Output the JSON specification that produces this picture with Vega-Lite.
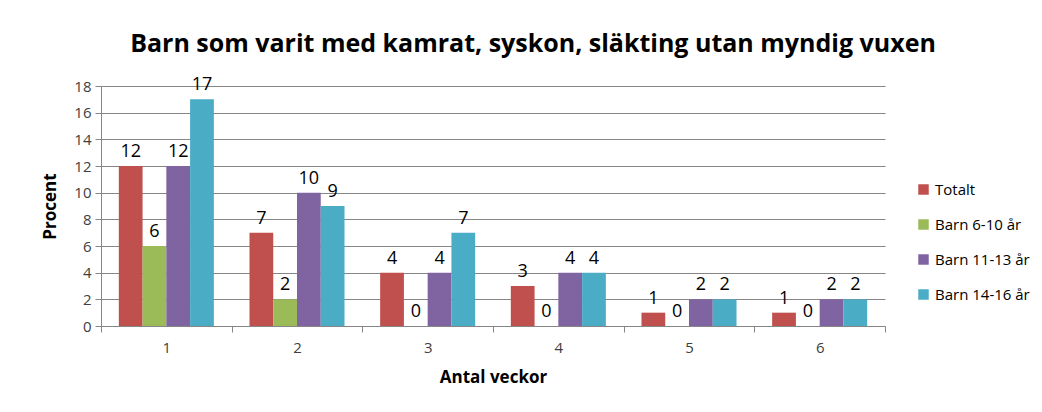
{
  "$schema": "https://vega.github.io/schema/vega-lite/v6.json",
  "width": 784,
  "height": 240,
  "autosize": {"type": "none"},
  "padding": {"left": 101, "top": 86, "right": 157, "bottom": 86},
  "background": "white",
  "title": {
    "text": "Barn som varit med kamrat, syskon, släkting utan myndig vuxen",
    "font": "Open Sans",
    "fontSize": 25,
    "fontWeight": "bold",
    "color": "#000000",
    "anchor": "middle",
    "dx": 40,
    "offset": 19
  },
  "data": {
    "values": [
      {"veckor": "1", "grupp": "Totalt", "procent": 12},
      {"veckor": "1", "grupp": "Barn 6-10 år", "procent": 6},
      {"veckor": "1", "grupp": "Barn 11-13 år", "procent": 12},
      {"veckor": "1", "grupp": "Barn 14-16 år", "procent": 17},
      {"veckor": "2", "grupp": "Totalt", "procent": 7},
      {"veckor": "2", "grupp": "Barn 6-10 år", "procent": 2},
      {"veckor": "2", "grupp": "Barn 11-13 år", "procent": 10},
      {"veckor": "2", "grupp": "Barn 14-16 år", "procent": 9},
      {"veckor": "3", "grupp": "Totalt", "procent": 4},
      {"veckor": "3", "grupp": "Barn 6-10 år", "procent": 0},
      {"veckor": "3", "grupp": "Barn 11-13 år", "procent": 4},
      {"veckor": "3", "grupp": "Barn 14-16 år", "procent": 7},
      {"veckor": "4", "grupp": "Totalt", "procent": 3},
      {"veckor": "4", "grupp": "Barn 6-10 år", "procent": 0},
      {"veckor": "4", "grupp": "Barn 11-13 år", "procent": 4},
      {"veckor": "4", "grupp": "Barn 14-16 år", "procent": 4},
      {"veckor": "5", "grupp": "Totalt", "procent": 1},
      {"veckor": "5", "grupp": "Barn 6-10 år", "procent": 0},
      {"veckor": "5", "grupp": "Barn 11-13 år", "procent": 2},
      {"veckor": "5", "grupp": "Barn 14-16 år", "procent": 2},
      {"veckor": "6", "grupp": "Totalt", "procent": 1},
      {"veckor": "6", "grupp": "Barn 6-10 år", "procent": 0},
      {"veckor": "6", "grupp": "Barn 11-13 år", "procent": 2},
      {"veckor": "6", "grupp": "Barn 14-16 år", "procent": 2}
    ]
  },
  "encoding": {
    "x": {
      "field": "veckor",
      "type": "ordinal",
      "scale": {"paddingInner": 0, "paddingOuter": 0},
      "axis": {
        "title": "Antal veckor",
        "titleFont": "Open Sans",
        "titleFontSize": 17,
        "titleFontWeight": "bold",
        "titleColor": "#000000",
        "titlePadding": 14,
        "labelAngle": 0,
        "labelFont": "Open Sans",
        "labelFontSize": 15,
        "labelColor": "#404040",
        "labelPadding": 8,
        "tickBand": "extent",
        "tickSize": 6,
        "tickColor": "#868686",
        "domainColor": "#868686",
        "grid": false
      }
    },
    "xOffset": {
      "field": "grupp",
      "type": "nominal",
      "sort": ["Totalt", "Barn 6-10 år", "Barn 11-13 år", "Barn 14-16 år"],
      "scale": {"paddingInner": 0, "paddingOuter": 0.75}
    },
    "y": {
      "field": "procent",
      "type": "quantitative",
      "scale": {"domain": [0, 18]},
      "axis": {
        "title": "Procent",
        "titleFont": "Open Sans",
        "titleFontSize": 17,
        "titleFontWeight": "bold",
        "titleColor": "#000000",
        "titlePadding": 14,
        "values": [0, 2, 4, 6, 8, 10, 12, 14, 16, 18],
        "labelFont": "Open Sans",
        "labelFontSize": 15,
        "labelColor": "#404040",
        "labelPadding": 4,
        "tickSize": 6,
        "tickColor": "#868686",
        "domainColor": "#868686",
        "gridColor": "#868686",
        "grid": true
      }
    }
  },
  "layer": [
    {
      "mark": {"type": "bar"},
      "encoding": {
        "color": {
          "field": "grupp",
          "type": "nominal",
          "sort": ["Totalt", "Barn 6-10 år", "Barn 11-13 år", "Barn 14-16 år"],
          "scale": {
            "domain": ["Totalt", "Barn 6-10 år", "Barn 11-13 år", "Barn 14-16 år"],
            "range": ["#C0504D", "#9BBB59", "#8064A2", "#4BACC6"]
          },
          "legend": {
            "title": null,
            "orient": "none",
            "legendX": 815,
            "legendY": 96,
            "symbolType": "square",
            "symbolSize": 110,
            "symbolStrokeWidth": 0,
            "labelFont": "Open Sans",
            "labelFontSize": 15,
            "labelColor": "#000000",
            "rowPadding": 19,
            "labelOffset": 4
          }
        }
      }
    },
    {
      "mark": {"type": "text", "baseline": "bottom", "dy": -5, "font": "Open Sans", "fontSize": 18, "color": "#000000"},
      "encoding": {
        "text": {"field": "procent", "type": "quantitative"}
      }
    }
  ],
  "config": {
    "view": {"stroke": null}
  }
}
